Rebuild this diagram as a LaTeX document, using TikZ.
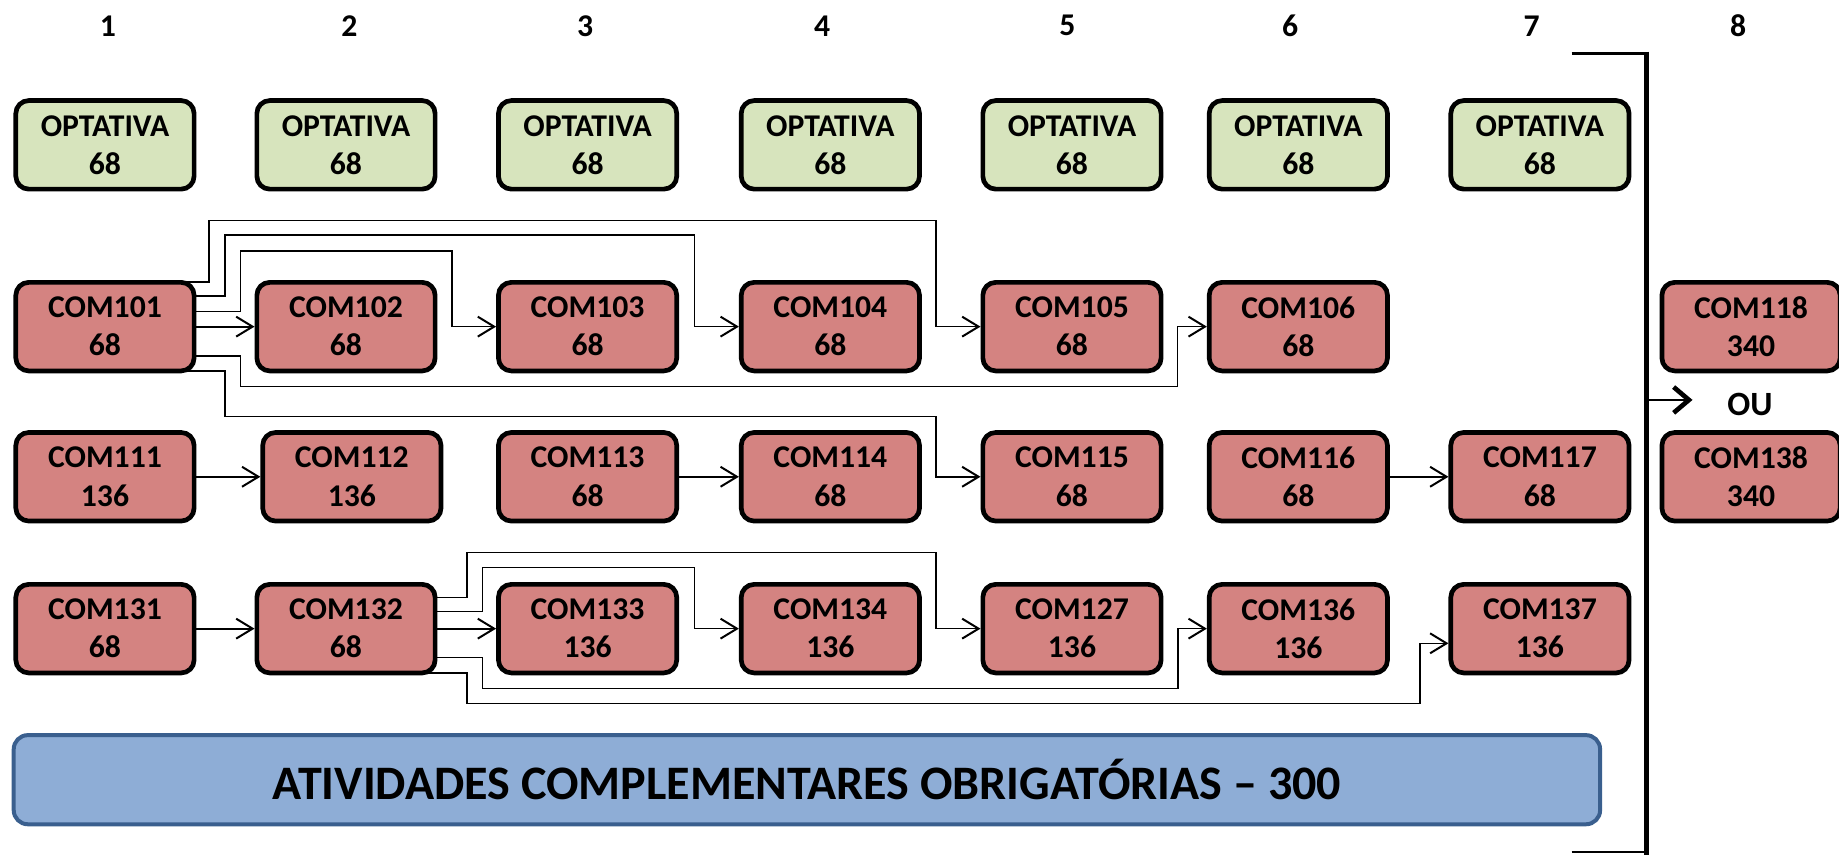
\documentclass[tikz,border=0pt]{standalone}
\usepackage{fontspec}
\setmainfont{Carlito}
\usetikzlibrary{arrows.meta,calc}
\pgfdeclarelayer{background}
\pgfsetlayers{background,main}
\definecolor{optfill}{HTML}{D7E4BD}
\definecolor{comfill}{HTML}{D48381}
\definecolor{atvfill}{HTML}{8EADD6}
\definecolor{atvline}{HTML}{3A5F8E}
\begin{document}
\begin{tikzpicture}[x=1pt,y=-1pt,
  box/.style={draw=black, line width=4pt, rounded corners=11pt, minimum width=152pt,
    minimum height=75.5pt, inner sep=0pt, align=center,
    font=\fontsize{27}{32.5}\selectfont\bfseries},
  opt/.style={box, fill=optfill},
  com/.style={box, fill=comfill},
  hdr/.style={font=\fontsize{27}{30}\selectfont\bfseries, inner sep=0pt},
  link/.style={line width=1.3pt, -{Straight Barb[length=14pt,width=17pt,line width=1.7pt]}},
  direct/.style={link, line width=1.8pt},
]
\useasboundingbox (0,0) rectangle (1568,729);

% column headers
\node[hdr] (h1) at (92,22) {1};
\node[hdr] (h2) at (298,22) {2};
\node[hdr] (h3) at (499,22) {3};
\node[hdr] (h4) at (701,22) {4};
\node[hdr] (h5) at (910,22) {5};
\node[hdr] (h6) at (1100,22) {6};
\node[hdr] (h7) at (1306,22) {7};
\node[hdr] (h8) at (1482,22) {8};

% optativas
\node[opt] (o1) at (89.5,123.5) {OPTATIVA\\68};
\node[opt] (o2) at (295,123.5) {OPTATIVA\\68};
\node[opt] (o3) at (501,123.5) {OPTATIVA\\68};
\node[opt] (o4) at (708,123.5) {OPTATIVA\\68};
\node[opt] (o5) at (914,123.5) {OPTATIVA\\68};
\node[opt] (o6) at (1107,123.5) {OPTATIVA\\68};
\node[opt] (o7) at (1313,123.5) {OPTATIVA\\68};

% row 2
\node[com] (c101) at (89.5,278.5) {COM101\\68};
\node[com] (c102) at (295,278.5) {COM102\\68};
\node[com] (c103) at (501,278.5) {COM103\\68};
\node[com] (c104) at (708,278.5) {COM104\\68};
\node[com] (c105) at (914,278.5) {COM105\\68};
\node[com] (c106) at (1107,278.5) {COM106\\68};
\node[com] (c118) at (1493,278.5) {COM118\\340};

% row 3
\node[com] (c111) at (89.5,406.5) {COM111\\136};
\node[com] (c112) at (300,406.5) {COM112\\136};
\node[com] (c113) at (501,406.5) {COM113\\68};
\node[com] (c114) at (708,406.5) {COM114\\68};
\node[com] (c115) at (914,406.5) {COM115\\68};
\node[com] (c116) at (1107,406.5) {COM116\\68};
\node[com] (c117) at (1313,406.5) {COM117\\68};
\node[com] (c138) at (1493,406.5) {COM138\\340};

% row 4
\node[com] (c131) at (89.5,536) {COM131\\68};
\node[com] (c132) at (295,536) {COM132\\68};
\node[com] (c133) at (501,536) {COM133\\136};
\node[com] (c134) at (708,536) {COM134\\136};
\node[com] (c127) at (914,536) {COM127\\136};
\node[com] (c136) at (1107,536) {COM136\\136};
\node[com] (c137) at (1313,536) {COM137\\136};

% atividades complementares
\node[draw=atvline, fill=atvfill, line width=3.4pt, rounded corners=12pt,
  minimum width=1352.6pt, minimum height=76pt, inner sep=0pt,
  font=\fontsize{41}{48}\selectfont\bfseries] (atv) at (688,664.8)
  {ATIVIDADES COMPLEMENTARES OBRIGATÓRIAS – 300};

\node[font=\fontsize{29}{34}\selectfont\bfseries, inner sep=0pt] (ou) at (1492,345) {OU};

\begin{pgfonlayer}{background}
% from COM101
\draw[link] ([xshift=-12pt,yshift=38pt]c101.east) -| (178,188) -| (798,278.5) -- (c105.west);
\draw[link] ([xshift=-4pt,yshift=26pt]c101.east) -| (192,200.5) -| (592,278.5) -- (c104.west);
\draw[link] ([yshift=13pt]c101.east) -| (205,214) -| (385.5,278.5) -- (c103.west);
\draw[link] ([xshift=-4pt,yshift=-25pt]c101.east) -| (205,329.5) -| (1004,278.5) -- (c106.west);
\draw[link] ([xshift=-12pt,yshift=-38pt]c101.east) -| (192,355) -| (798,406.5) -- (c115.west);
% from COM132
\draw[link] ([xshift=-4pt,yshift=26.5pt]c132.east) -| (398,471.2) -| (798,536) -- (c127.west);
\draw[link] ([yshift=14.5pt]c132.east) -| (411.5,484) -| (592,536) -- (c134.west);
\draw[link] ([xshift=-4pt,yshift=-24.7pt]c132.east) -| (411.5,587) -| (1004.5,536) -- (c136.west);
\draw[link] ([xshift=-12pt,yshift=-38pt]c132.east) -| (398,600) -| (1210.7,548.5) -- ([yshift=-12.5pt]c137.west);
\end{pgfonlayer}

% direct arrows
\draw[direct] (c101.east) -- (c102.west);
\draw[direct] (c111.east) -- (c112.west);
\draw[direct] (c113.east) -- (c114.west);
\draw[direct] (c116.east) -- (c117.west);
\draw[direct] (c131.east) -- (c132.west);
\draw[direct] (c132.east) -- (c133.west);

% bracket
\coordinate (btl) at (1340,45.5);
\coordinate (btr) at (1404,45.5);
\coordinate (bbr) at (1404,729);
\coordinate (bbl) at (1340,726.4);
\coordinate (bmid) at (1404,341);
\coordinate (bout) at (1440,341);
\draw[line width=3pt] (btl) -- ([xshift=2pt]btr);
\draw[line width=4pt] ([yshift=1.5pt]btr) -- (bbr);
\draw[line width=2.2pt] (bbl) -- (bbl -| bbr);
\draw[line width=2.2pt] (bmid) -- ([xshift=-2pt]bout);
\draw[line width=4pt, line join=miter] ([xshift=-13pt,yshift=11pt]bout) -- (bout) -- ([xshift=-13pt,yshift=-11pt]bout);
\end{tikzpicture}
\end{document}
